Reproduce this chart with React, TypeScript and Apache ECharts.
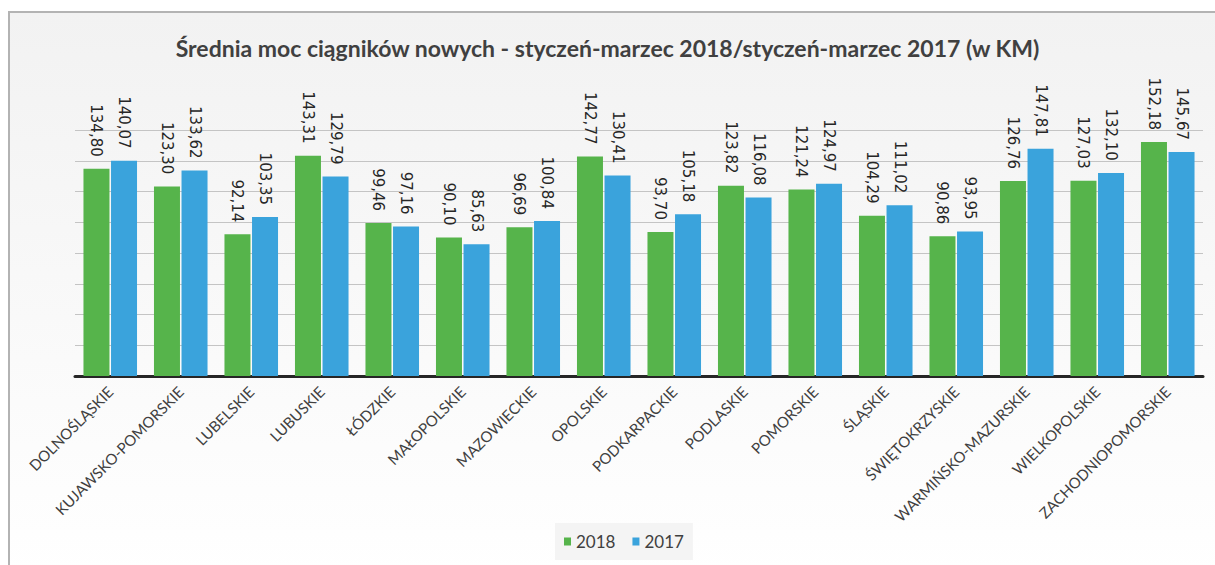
import React, { useEffect, useRef } from "react";
import * as echarts from "echarts";

const categories = [
  "DOLNOŚLĄSKIE",
  "KUJAWSKO-POMORSKIE",
  "LUBELSKIE",
  "LUBUSKIE",
  "ŁÓDZKIE",
  "MAŁOPOLSKIE",
  "MAZOWIECKIE",
  "OPOLSKIE",
  "PODKARPACKIE",
  "PODLASKIE",
  "POMORSKIE",
  "ŚLĄSKIE",
  "ŚWIĘTOKRZYSKIE",
  "WARMIŃSKO-MAZURSKIE",
  "WIELKOPOLSKIE",
  "ZACHODNIOPOMORSKIE",
];

const values2018 = [134.8, 123.3, 92.14, 143.31, 99.46, 90.1, 96.69, 142.77, 93.7, 123.82, 121.24, 104.29, 90.86, 126.76, 127.03, 152.18];
const values2017 = [140.07, 133.62, 103.35, 129.79, 97.16, 85.63, 100.84, 130.41, 105.18, 116.08, 124.97, 111.02, 93.95, 147.81, 132.1, 145.67];

const seriesNames = ["2018", "2017"];
const title = "Średnia moc ciągników nowych - styczeń-marzec 2018/styczeń-marzec 2017 (w KM)";

const fmt = (v: number) => v.toFixed(2).replace(".", ",");

export default function App() {
  const ref = useRef<HTMLDivElement>(null);
  useEffect(() => {
    if (!ref.current) return;
    const chart = echarts.init(ref.current, null, { renderer: "svg" });
    const label = {
      show: true,
      position: "top",
      distance: 12,
      rotate: -90,
      align: "right",
      verticalAlign: "middle",
      fontFamily: "DejaVu Sans",
      fontSize: 15,
      color: "#262626",
      formatter: (p: any) => fmt(p.value),
    };
    chart.setOption({
      animation: false,
      backgroundColor: "#ffffff",
      graphic: [
        {
          type: "rect",
          z: -10,
          silent: true,
          shape: { x: 9, y: 12, width: 1215, height: 565 },
          style: {
            fill: new echarts.graphic.LinearGradient(0, 0, 0, 1, [
              { offset: 0, color: "#f2f2f2" },
              { offset: 1, color: "#ffffff" },
            ]),
            stroke: "#b3b3b3",
            lineWidth: 2,
          },
        },
      ],
      title: {
        text: title,
        left: "center",
        top: 31,
        textStyle: {
          fontFamily: "Lato",
          fontWeight: "bold",
          fontSize: 23,
          color: "#404040",
        },
      },
      legend: {
        data: seriesNames,
        left: 555,
        bottom: 5,
        padding: [10, 9],
        backgroundColor: "#f4f4f4",
        itemWidth: 7,
        itemHeight: 8,
        itemGap: 17,
        icon: "rect",
        textStyle: { fontFamily: "Lato", fontSize: 17, color: "#404040" },
      },
      grid: {
        left: 75,
        right: 12,
        top: 130,
        bottom: 189,
        containLabel: false,
        outerBoundsMode: "none",
      },
      xAxis: {
        type: "category",
        data: categories,
        axisLine: { show: true, lineStyle: { color: "#262626", width: 3 } },
        axisTick: { show: false },
        axisLabel: {
          interval: 0,
          rotate: 45,
          margin: 13,
          fontFamily: "Lato",
          fontSize: 15,
          color: "#404040",
        },
      },
      yAxis: {
        type: "value",
        min: 0,
        max: 160,
        interval: 20,
        axisLine: { show: false },
        axisTick: { show: false },
        axisLabel: { show: false },
        splitLine: { lineStyle: { color: "#c4c4c4", width: 1 } },
      },
      series: [
        {
          name: seriesNames[0],
          type: "bar",
          data: values2018,
          barWidth: 26,
          barGap: "6%",
          itemStyle: { color: "#56b44b" },
          label,
        },
        {
          name: seriesNames[1],
          type: "bar",
          data: values2017,
          barWidth: 26,
          itemStyle: { color: "#3aa3dc" },
          label,
        },
      ],
    });
    return () => chart.dispose();
  }, []);
  return (
    <div
      ref={ref}
      style={{ position: "fixed", left: 0, top: 0, width: 1215, height: 565 }}
    />
  );
}
